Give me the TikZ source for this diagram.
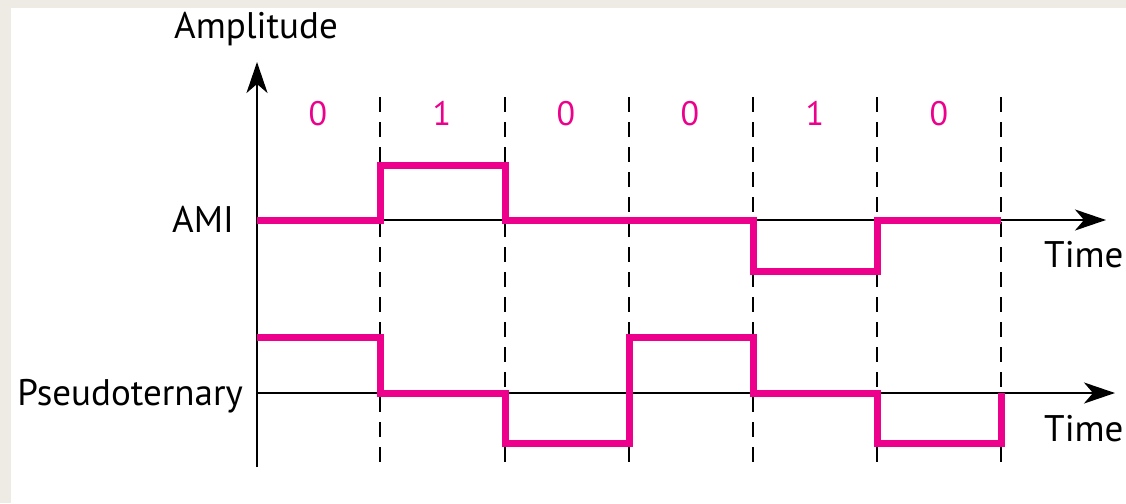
\documentclass[tikz,border=0pt]{standalone}
\usepackage{fontspec}
\setmainfont{PT Sans}
\usetikzlibrary{arrows.meta}
\definecolor{wavepink}{HTML}{EC008C}
\definecolor{framebg}{HTML}{EEEBE4}
\begin{document}
\begin{tikzpicture}[x=1pt,y=-1pt,
  axisline/.style={line width=2.6pt,-{Stealth[length=31pt,width=21pt,inset=9pt]}},
  bitline/.style={line width=2.8pt,dash pattern=on 15pt off 10pt},
  wave/.style={line width=7pt,wavepink,line join=miter},
  lbl/.style={font=\fontsize{37}{44}\selectfont,inner sep=0pt},
  bitlbl/.style={font=\fontsize{34}{40}\selectfont,text=wavepink,inner sep=0pt,anchor=base}]
% background frame
\fill[framebg] (0,0) rectangle (1126,503);
\fill[white] (11,8) rectangle (1126,503);
\useasboundingbox (0,0) rectangle (1126,503);
% labels
\node[lbl,anchor=base] (amp) at (256,39) {Amplitude};
\node[lbl,anchor=base east] (ami) at (234,232) {AMI};
\node[lbl,anchor=base east] (pseudo) at (243,405) {Pseudoternary};
\node[lbl,anchor=base west] (time1) at (1044,267) {Time};
\node[lbl,anchor=base west] (time2) at (1044,441) {Time};
% bit labels
\foreach \x/\b [count=\i] in {318/0,442/1,566/0,690/0,815/1,939/0}
  \node[bitlbl] (bit\i) at (\x,125) {\b};
% dashed bit boundaries
\foreach \x [count=\i] in {380,505,629,753,877,1001}{
  \coordinate (dt\i) at (\x,97);
  \coordinate (db\i) at (\x,466);
  \draw[bitline] (dt\i) -- (db\i);
}
% axes
\coordinate (vbot) at (257,467);
\coordinate (vtop) at (257,62);
\draw[axisline] (vbot) -- (vtop);
\coordinate (a0) at (257,220);
\coordinate (a1) at (1106,220);
\draw[axisline] (a0) -- (a1);
\coordinate (p0) at (257,393);
\coordinate (p1) at (1115,393);
\draw[axisline] (p0) -- (p1);
% AMI waveform
\draw[wave] (257,220) -- (380,220) -- (380,165) -- (505,165) -- (505,220)
  -- (753,220) -- (753,271) -- (877,271) -- (877,220) -- (1001,220);
% Pseudoternary waveform
\draw[wave] (257,337) -- (380,337) -- (380,393) -- (505,393) -- (505,443)
  -- (629,443) -- (629,337) -- (753,337) -- (753,393) -- (877,393)
  -- (877,443) -- (1001,443) -- (1001,393);
\end{tikzpicture}
\end{document}
